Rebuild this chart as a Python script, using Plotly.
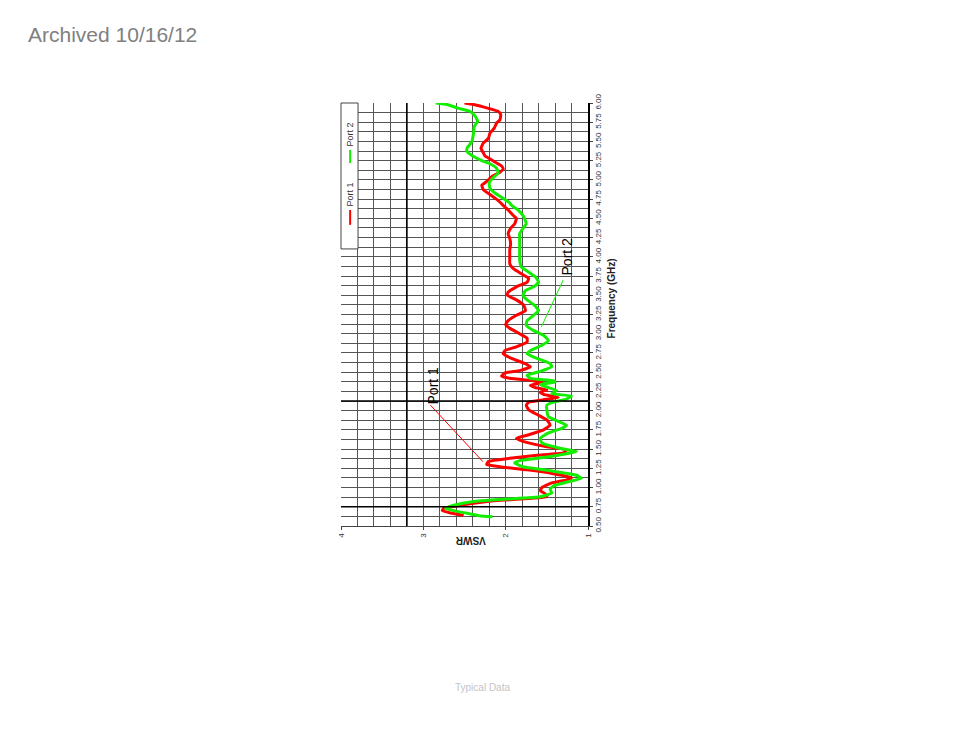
import plotly.graph_objects as go

# Port 1 (red) : frequency (GHz) and VSWR
p1_freq = [6.00, 5.98, 5.93, 5.89, 5.85, 5.78, 5.74, 5.67, 5.61, 5.54, 5.48, 5.41, 5.35, 5.31,
           5.26, 5.22, 5.18, 5.14, 5.10, 5.05, 4.98, 4.93, 4.87, 4.81, 4.74, 4.67, 4.61, 4.54,
           4.50, 4.43, 4.37, 4.30, 4.24, 4.17, 4.09, 4.00, 3.91, 3.85, 3.78, 3.72, 3.67, 3.61,
           3.54, 3.50, 3.44, 3.37, 3.30, 3.24, 3.17, 3.12, 3.07, 3.00, 2.94, 2.89, 2.83, 2.78,
           2.74, 2.68, 2.61, 2.57, 2.52, 2.49, 2.45, 2.42, 2.39, 2.37, 2.33, 2.30, 2.27, 2.24,
           2.21, 2.17, 2.14, 2.11, 2.07, 2.01, 1.94, 1.88, 1.81, 1.75, 1.68, 1.64, 1.60, 1.53,
           1.49, 1.45, 1.42, 1.38, 1.34, 1.30, 1.27, 1.23, 1.18, 1.13, 1.10, 1.06, 1.00, 0.96,
           0.92, 0.88, 0.85, 0.82, 0.77, 0.73, 0.70, 0.67, 0.64]
p1_vswr = [2.50, 2.39, 2.21, 2.09, 2.06, 2.07, 2.11, 2.14, 2.19, 2.21, 2.27, 2.30, 2.27, 2.25,
           2.17, 2.11, 2.05, 2.03, 2.07, 2.16, 2.23, 2.29, 2.27, 2.19, 2.10, 2.03, 1.97, 1.91,
           1.87, 1.89, 1.94, 1.97, 1.95, 1.94, 1.95, 1.95, 1.95, 1.91, 1.81, 1.72, 1.74, 1.87,
           1.97, 1.98, 1.87, 1.78, 1.76, 1.87, 1.97, 2.00, 1.95, 1.83, 1.74, 1.74, 1.87, 2.01,
           2.03, 1.93, 1.76, 1.70, 1.83, 2.01, 2.05, 1.95, 1.66, 1.54, 1.70, 1.64, 1.50, 1.58,
           1.54, 1.36, 1.55, 1.72, 1.75, 1.72, 1.60, 1.50, 1.46, 1.54, 1.74, 1.87, 1.79, 1.50,
           1.26, 1.30, 1.62, 1.95, 2.21, 2.23, 2.07, 1.74, 1.42, 1.20, 1.26, 1.44, 1.56, 1.58,
           1.52, 1.50, 1.83, 2.23, 2.55, 2.75, 2.77, 2.67, 2.51]

# Port 2 (green)
p2_freq = [6.00, 5.98, 5.93, 5.89, 5.83, 5.76, 5.70, 5.61, 5.50, 5.41, 5.37, 5.31, 5.25, 5.21,
           5.15, 5.09, 5.02, 4.96, 4.89, 4.83, 4.76, 4.70, 4.67, 4.61, 4.52, 4.43, 4.37, 4.30,
           4.22, 4.13, 4.04, 3.96, 3.87, 3.80, 3.74, 3.67, 3.61, 3.56, 3.50, 3.44, 3.37, 3.30,
           3.24, 3.17, 3.11, 3.04, 2.98, 2.91, 2.85, 2.78, 2.74, 2.68, 2.61, 2.57, 2.51, 2.46,
           2.42, 2.39, 2.37, 2.34, 2.30, 2.26, 2.22, 2.19, 2.15, 2.11, 2.07, 2.01, 1.92, 1.86,
           1.81, 1.77, 1.71, 1.64, 1.58, 1.51, 1.47, 1.44, 1.39, 1.35, 1.32, 1.27, 1.22, 1.16,
           1.12, 1.08, 1.02, 0.98, 0.93, 0.88, 0.85, 0.82, 0.77, 0.73, 0.69, 0.65, 0.63, 0.62]
p2_vswr = [2.85, 2.71, 2.57, 2.43, 2.37, 2.34, 2.38, 2.39, 2.41, 2.47, 2.47, 2.40, 2.29, 2.19,
           2.11, 2.09, 2.16, 2.20, 2.19, 2.13, 2.03, 1.95, 1.93, 1.85, 1.78, 1.75, 1.79, 1.83,
           1.83, 1.83, 1.83, 1.83, 1.81, 1.72, 1.64, 1.60, 1.66, 1.76, 1.79, 1.74, 1.65, 1.60,
           1.66, 1.74, 1.75, 1.66, 1.54, 1.48, 1.56, 1.70, 1.74, 1.62, 1.46, 1.44, 1.58, 1.74,
           1.70, 1.42, 1.40, 1.58, 1.48, 1.38, 1.44, 1.20, 1.26, 1.42, 1.50, 1.50, 1.48, 1.36,
           1.26, 1.32, 1.48, 1.58, 1.56, 1.34, 1.14, 1.26, 1.54, 1.83, 1.89, 1.79, 1.46, 1.14,
           1.08, 1.22, 1.42, 1.46, 1.44, 1.58, 1.99, 2.39, 2.63, 2.73, 2.59, 2.39, 2.30, 2.16]

freq_ticks = [0.50, 0.75, 1.00, 1.25, 1.50, 1.75, 2.00, 2.25, 2.50, 2.75, 3.00, 3.25, 3.50,
              3.75, 4.00, 4.25, 4.50, 4.75, 5.00, 5.25, 5.50, 5.75, 6.00]
vswr_ticks = [1, 2, 3, 4]
vswr_limit = 3.2
band_edges = [0.75, 2.125]

FONT = "Arial, Liberation Sans, sans-serif"
GRID = "#555555"

fig = go.Figure()
fig.add_trace(go.Scatter(x=p1_vswr, y=p1_freq, mode="lines", name="Port 1",
                         line=dict(color="#ff0000", width=3, shape="spline", smoothing=0.4)))
fig.add_trace(go.Scatter(x=p2_vswr, y=p2_freq, mode="lines", name="Port 2",
                         line=dict(color="#11ee00", width=3, shape="spline", smoothing=0.4)))

shapes = []
shapes.append(dict(type="line", xref="x", yref="paper", x0=vswr_limit, x1=vswr_limit, y0=0, y1=1,
                   line=dict(color="black", width=1.6), layer="above"))
for b in band_edges:
    shapes.append(dict(type="line", xref="paper", yref="y", x0=0, x1=1, y0=b, y1=b,
                       line=dict(color="black", width=1.6), layer="above"))

# legend box (rotated legend)
L, R, B = 0.0, 0.069, 0.655
LX = 0.037
shapes.append(dict(type="rect", xref="paper", yref="paper", x0=L, x1=R, y0=B, y1=1.0,
                   fillcolor="white", line=dict(color="#444", width=1), layer="above"))
shapes.append(dict(type="line", xref="paper", yref="paper", x0=LX, x1=LX, y0=0.858, y1=0.889,
                   line=dict(color="#11ee00", width=2), layer="above"))
shapes.append(dict(type="line", xref="paper", yref="paper", x0=LX, x1=LX, y0=0.712, y1=0.747,
                   line=dict(color="#ff0000", width=2), layer="above"))

# annotation leader lines
shapes.append(dict(type="line", xref="x", yref="y", x0=2.915, y0=2.073, x1=2.276, y1=1.336,
                   line=dict(color="#ff0000", width=1)))
shapes.append(dict(type="line", xref="x", yref="y", x0=1.30, y0=3.70, x1=1.566, y1=3.09,
                   line=dict(color="#11ee00", width=1)))

annotations = [
    dict(text="Port 2", xref="paper", yref="paper", x=LX, y=0.893, xanchor="center",
         yanchor="bottom", showarrow=False, textangle=-90,
         font=dict(family=FONT, size=9, color="#333")),
    dict(text="Port 1", xref="paper", yref="paper", x=LX, y=0.751, xanchor="center",
         yanchor="bottom", showarrow=False, textangle=-90,
         font=dict(family=FONT, size=9, color="#333")),
    dict(text="Port 1", xref="x", yref="y", x=2.88, y=2.33, xanchor="center", yanchor="middle",
         showarrow=False, textangle=-90, font=dict(family=FONT, size=14, color="black")),
    dict(text="Port 2", xref="x", yref="y", x=1.25, y=4.01, xanchor="center", yanchor="middle",
         showarrow=False, textangle=-90, font=dict(family=FONT, size=14, color="black")),
    dict(text="<b>VSWR</b>", xref="paper", yref="paper", x=0.522, y=-0.0355,
         xanchor="center", yanchor="middle", showarrow=False,
         textangle=180, font=dict(family=FONT, size=10, color="#222")),
    dict(text="<b>Frequency (GHz)</b>", xref="paper", yref="paper", x=1.095, y=0.539,
         xanchor="center", yanchor="middle",
         showarrow=False, textangle=-90, font=dict(family=FONT, size=10, color="#222")),
    dict(text="Archived 10/16/12", xref="paper", yref="paper", x=-1.275, y=1.161,
         xanchor="left", yanchor="middle", showarrow=False,
         font=dict(family=FONT, size=21, color="#808080")),
    dict(text="Typical Data", xref="paper", yref="paper", x=0.571, y=-0.381,
         xanchor="center", yanchor="middle", showarrow=False,
         font=dict(family=FONT, size=10, color="#c4c4c4")),
]

fig.update_layout(
    width=946, height=730,
    margin=dict(l=333, r=366, t=95, b=212),
    paper_bgcolor="white", plot_bgcolor="white",
    showlegend=False,
    shapes=shapes, annotations=annotations,
    xaxis=dict(range=[4, 1], tickmode="array", tickvals=vswr_ticks,
               ticktext=[str(v) for v in vswr_ticks], tickangle=-90,
               tickfont=dict(family=FONT, size=8, color="#333"),
               ticks="outside", ticklen=3, tickcolor="#444",
               showgrid=True, gridcolor=GRID, gridwidth=1,
               minor=dict(dtick=0.2, tick0=1, showgrid=True, gridcolor=GRID, gridwidth=1),
               showline=True, linecolor="#444", linewidth=1, zeroline=False),
    yaxis=dict(range=[0.5, 6.0], side="right", tickmode="array", tickvals=freq_ticks,
               ticktext=[f"{v:.2f}" for v in freq_ticks], tickangle=-90,
               tickfont=dict(family=FONT, size=8, color="#333"),
               ticks="outside", ticklen=3, tickcolor="#444", ticklabelstandoff=-2,
               showgrid=True, gridcolor=GRID, gridwidth=1,
               minor=dict(dtick=0.125, tick0=0.5, showgrid=True, gridcolor=GRID, gridwidth=1),
               showline=True, linecolor="black", linewidth=2, zeroline=False),
)

fig.write_html("out.html")
